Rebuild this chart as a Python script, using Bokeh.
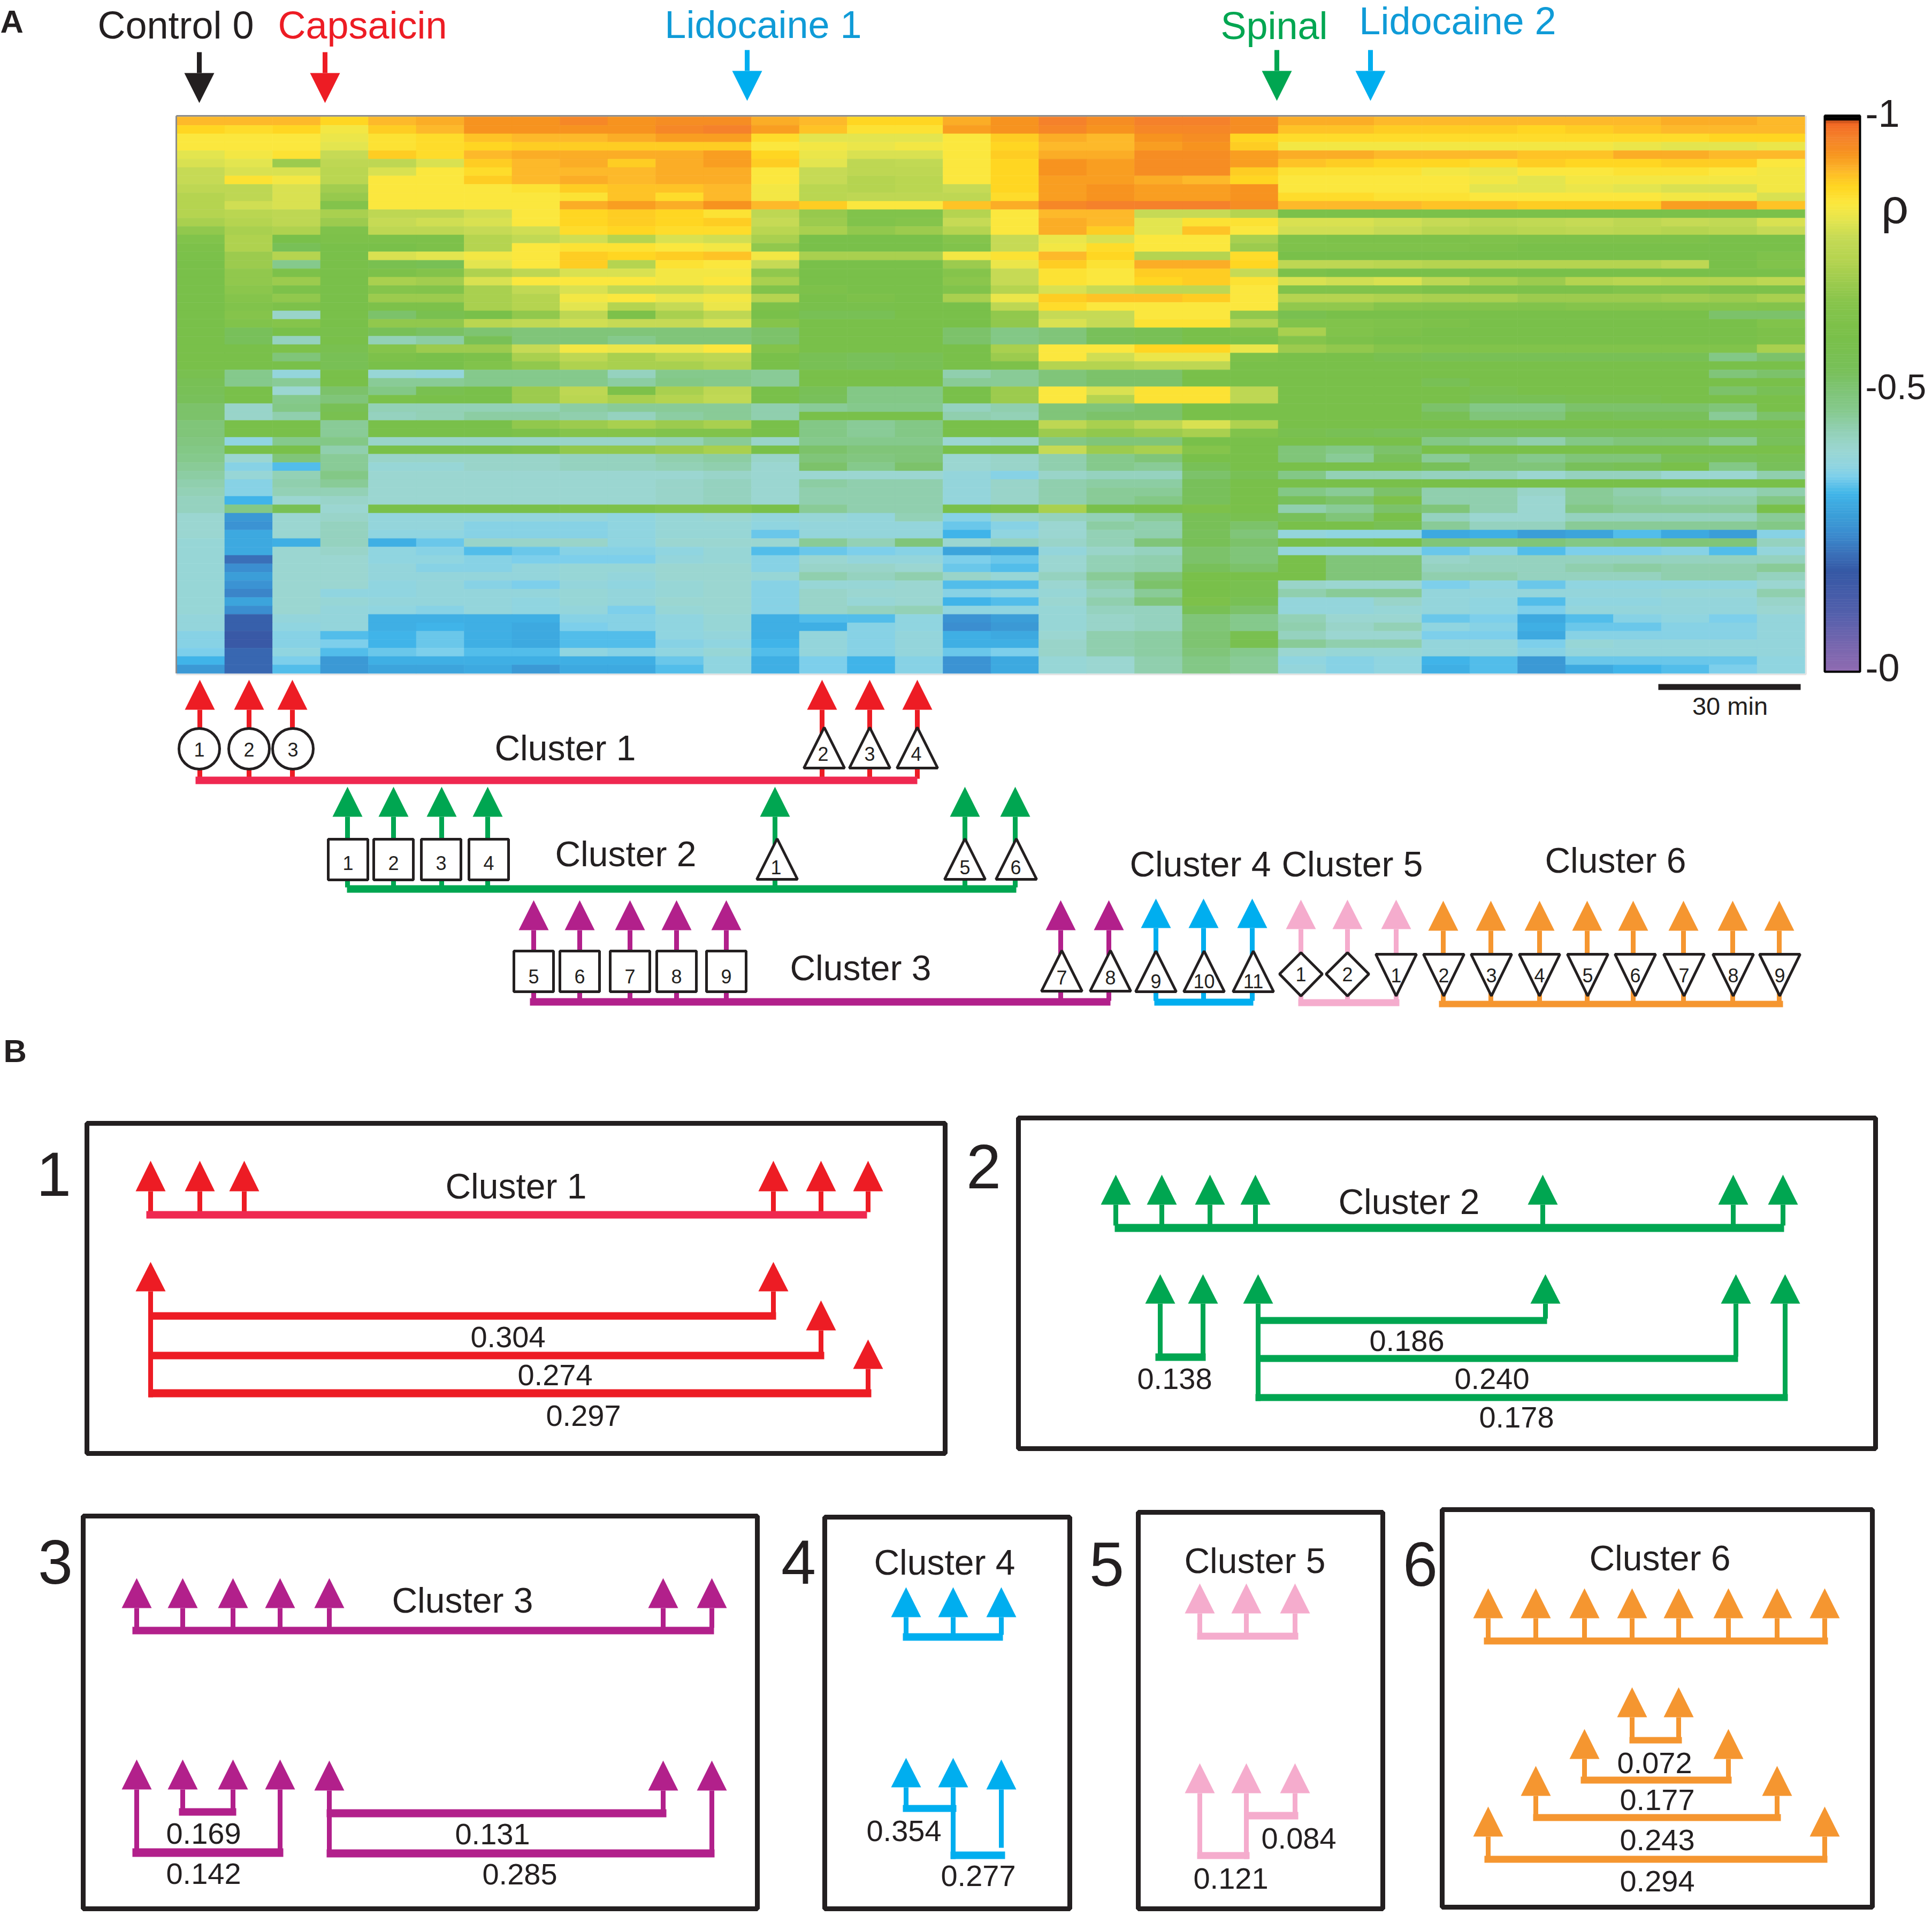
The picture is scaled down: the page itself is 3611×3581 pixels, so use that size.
from bokeh.plotting import figure
from bokeh.embed import file_html
from bokeh.resources import INLINE
from bokeh.models import ColumnDataSource, LinearColorMapper, Range1d
from bokeh.core.properties import value
import numpy as np

# ---------------------------------------------------------------- data
treatments = ["Control 0", "Capsaicin", "Lidocaine 1", "Spinal", "Lidocaine 2"]
cluster_names = ["Cluster 1", "Cluster 2", "Cluster 3", "Cluster 4", "Cluster 5", "Cluster 6"]
colorbar_labels = ["-1", "-0.5", "-0"]
corr_1 = ["0.304", "0.274", "0.297"]
corr_2 = ["0.186", "0.240", "0.178", "0.138"]
corr_3 = ["0.169", "0.142", "0.131", "0.285"]
corr_4 = ["0.354", "0.277"]
corr_5 = ["0.084", "0.121"]
corr_6 = ["0.072", "0.177", "0.243", "0.294"]

# |rho| x 100 (time bins 1-23, rows top to bottom)
t01 = [90,87,84,84,81,80,78,78,76,74,74,74,72,68,64,62,61,60,60,60,60,60,60,60,60,60,60,60,60,60,58,56,55,54,52,52,50,50,49,48,47,46,45,44,43,42,42,40,40,40,39,39,39,39,39,39,39,39,39,38,38,36,36,35,32,27]
t02 = [90,86,84,84,83,81,80,85,76,76,79,75,74,72,73,73,70,70,68,68,67,66,64,66,64,54,54,60,60,60,47,47,60,60,41,41,60,60,37,60,40,36,39,36,36,32,48,27,26,30,30,30,21,25,28,26,24,29,25,19,19,17,17,20,20,20]
t03 = [90,87,84,84,85,70,80,83,80,80,80,76,76,73,60,55,74,47,62,70,62,68,62,41,66,60,42,62,50,60,38,46,40,47,48,44,60,60,47,60,50,33,43,44,43,40,56,40,40,40,31,40,40,40,40,40,40,40,40,38,37,36,36,37,35,33]
t04 = [87,83,82,81,78,76,75,75,71,69,65,72,70,63,62,60,60,60,60,60,60,60,60,60,60,59,60,58,56,56,60,60,52,50,56,58,46,46,48,44,46,46,48,46,43,41,40,41,42,42,42,41,40,40,40,40,37,39,38,38,38,33,35,33,27,27]
t05 = [90,88,85,85,88,76,80,84,84,84,84,76,78,76,62,60,80,58,62,72,66,70,62,52,68,55,43,66,62,60,39,46,48,61,43,42,60,60,41,60,41,39,40,40,40,40,60,38,38,37,31,37,37,38,38,37,37,38,37,31,31,32,32,34,31,29]
t06 = [91,90,86,86,86,80,84,84,84,84,84,76,79,76,62,62,81,56,65,71,65,70,62,58,68,53,45,70,60,60,38,46,58,60,43,43,60,60,41,60,41,39,40,40,40,40,60,38,38,37,34,36,37,36,38,38,38,38,36,31,32,34,34,35,31,29]
t07 = [93,93,89,87,90,88,86,88,84,84,84,79,80,78,74,74,83,81,73,80,72,72,72,60,75,51,55,70,62,64,47,47,60,60,43,45,60,60,41,60,41,41,40,40,40,40,60,38,36,36,41,33,36,36,38,36,38,38,38,31,31,31,31,33,31,30]
t08 = [93,93,90,88,91,90,90,90,85,84,84,84,84,79,77,84,84,84,76,84,77,74,74,68,77,50,50,78,72,68,47,47,70,70,43,45,68,62,41,62,41,41,40,40,40,40,60,38,36,36,41,34,35,38,38,35,38,37,37,31,30,30,30,33,31,27]
t09 = [95,93,90,88,91,91,90,91,88,85,91,87,87,86,79,85,88,88,80,84,80,83,81,76,79,50,50,83,76,73,47,47,76,75,45,44,70,66,41,68,42,42,40,40,40,40,62,38,36,36,41,36,35,39,39,38,39,39,38,36,35,33,33,37,31,30]
t10 = [93,93,91,88,91,88,90,90,89,89,92,88,88,87,74,85,87,74,80,84,77,84,74,62,78,50,47,82,72,72,42,45,62,72,46,42,72,66,41,68,42,42,40,40,40,40,62,37,37,37,37,36,35,39,38,37,38,38,35,36,36,33,33,36,31,30]
t11 = [94,95,92,88,91,91,91,91,89,86,91,87,87,86,80,84,88,85,83,83,77,82,78,72,78,50,50,82,75,72,47,48,72,74,46,45,70,64,43,70,44,43,40,41,41,41,64,39,39,39,40,37,38,40,40,39,39,40,39,37,37,37,36,37,34,33]
t12 = [94,96,92,88,92,92,91,91,90,90,93,85,88,86,79,83,89,84,83,84,79,83,82,76,80,50,50,84,76,74,47,47,76,77,46,46,72,64,46,72,45,44,41,42,42,42,64,40,39,39,40,39,39,40,40,40,40,40,40,39,39,38,37,39,37,37]
t13 = [91,92,86,84,87,88,84,84,83,83,90,76,78,75,72,68,83,78,68,72,64,74,62,60,66,52,52,65,60,60,46,46,60,60,44,44,60,60,41,60,41,40,40,40,40,40,60,38,37,34,40,33,36,36,39,36,36,36,36,31,31,31,32,33,31,31]
t14 = [90,89,81,83,82,81,78,78,75,75,88,69,70,72,60,60,72,60,60,60,62,60,59,56,60,60,60,60,56,56,60,60,55,54,46,60,48,48,47,52,50,52,40,45,44,44,46,39,38,38,46,34,40,41,44,39,41,41,41,33,31,38,38,38,35,35]
t15 = [87,85,81,82,80,76,76,74,74,76,84,64,64,68,60,60,72,60,60,60,60,62,59,56,60,60,60,60,54,54,60,60,48,48,47,60,46,46,47,50,49,47,40,44,44,44,44,38,38,38,43,35,38,41,42,39,40,39,42,33,36,36,36,36,32,32]
t16 = [87,85,81,83,80,77,76,75,75,76,84,64,66,70,60,60,72,60,60,60,60,60,60,60,60,60,60,60,56,56,60,60,48,48,47,60,48,48,47,50,50,52,40,44,44,44,44,43,38,38,50,36,38,40,44,40,40,40,43,37,37,38,38,38,36,36]
t17 = [91,92,84,84,84,84,84,84,78,76,89,74,78,74,66,64,83,70,66,67,64,72,60,60,60,52,52,60,60,60,44,46,60,60,42,44,60,60,40,60,40,40,38,38,38,38,60,36,34,32,40,29,35,34,41,33,36,32,37,26,25,31,31,34,26,26]
t18 = [93,93,88,87,88,87,87,87,87,86,91,84,84,84,78,78,85,82,78,78,74,82,76,68,68,48,48,72,70,62,46,46,70,70,44,43,60,60,41,60,41,41,36,41,41,41,62,41,36,37,42,30,34,33,39,33,37,33,37,28,27,30,31,35,30,30]
t19 = [96,95,91,90,91,93,93,92,92,92,95,90,91,91,82,83,90,88,85,85,80,88,86,78,80,50,50,84,84,74,50,50,84,84,50,50,76,70,48,78,44,44,41,44,44,44,72,42,40,40,41,38,40,40,42,40,39,40,39,39,39,40,41,41,39,39]
t20 = [94,93,90,90,91,92,92,92,93,93,96,90,90,88,80,86,87,85,84,84,78,89,84,78,78,54,54,84,79,74,52,52,80,74,50,52,72,68,50,70,47,47,42,45,46,46,60,43,45,43,43,41,43,43,46,44,42,44,42,41,41,44,44,44,40,40]
t21 = [96,95,93,92,94,94,94,91,92,92,96,78,81,81,84,84,74,91,88,87,76,89,84,84,85,56,56,87,82,76,52,52,85,85,52,52,76,70,50,72,50,46,42,45,46,48,60,46,44,44,50,42,44,44,50,52,46,50,42,42,42,45,45,45,44,44]
t22 = [96,95,94,93,94,94,94,90,92,92,96,78,85,89,84,84,74,91,88,88,76,88,84,84,85,60,60,87,82,76,60,60,85,85,60,60,80,72,60,66,60,55,52,54,54,54,62,55,55,54,55,52,52,54,60,60,60,62,56,50,50,51,51,50,48,48]
t23 = [94,94,87,88,92,92,88,87,93,93,94,74,85,84,72,70,86,87,78,85,84,84,84,68,74,62,60,82,62,60,60,60,76,76,60,60,73,64,60,60,60,60,56,60,60,60,60,58,52,50,52,50,50,52,60,58,58,56,52,47,47,58,58,47,46,46]

# |rho| x 100, time bins 24-34, one list per row (top to bottom)
late_rows = [
 [91,91,90,90,90,90,90,90,91,91,90],[89,89,88,88,88,87,88,89,90,90,90],[86,86,86,86,86,86,86,86,86,87,87],
 [83,83,83,83,83,83,83,82,81,81,82],[91,91,90,90,90,89,89,91,91,90,90],[89,88,87,87,86,88,87,87,88,88,84],
 [85,85,85,83,82,84,84,85,85,84,83],[84,84,84,84,83,81,83,83,83,83,83],[84,84,84,84,81,81,82,81,80,80,83],
 [86,86,85,85,84,84,84,84,83,83,80],[90,90,90,89,89,88,88,88,92,92,89],[61,61,61,61,61,61,61,61,61,61,61],
 [80,80,79,78,76,77,78,76,78,77,80],[79,79,78,75,74,75,76,75,74,75,78],[63,62,62,62,63,62,62,62,62,60,60],
 [63,63,63,63,62,60,60,60,60,60,60],[60,60,60,60,60,60,60,60,60,60,63],[76,76,75,74,74,74,74,74,76,60,64],
 [62,60,60,60,60,60,60,60,60,60,60],[80,79,80,76,72,70,74,75,74,74,76],[64,64,64,62,62,62,62,64,64,62,62],
 [74,74,73,72,72,70,70,70,71,70,72],[68,68,66,65,65,64,66,66,66,66,65],[58,60,60,60,60,60,60,60,60,52,52],
 [64,64,63,62,60,60,60,60,60,60,64],[72,64,62,60,60,60,60,60,60,60,62],[66,62,60,60,60,60,60,60,60,60,62],
 [70,68,66,64,64,64,64,64,64,64,72],[60,60,58,56,56,56,56,56,56,48,52],[60,60,60,60,60,60,60,60,60,60,60],
 [60,60,60,60,60,60,60,60,60,50,52],[60,60,60,56,60,60,60,60,60,60,60],[60,60,60,60,58,60,60,60,60,52,56],
 [60,60,60,60,56,56,58,58,60,60,60],[60,60,60,52,48,48,52,52,52,50,60],[60,60,60,56,50,50,56,54,54,46,52],
 [60,60,60,60,60,60,60,60,60,60,60],[58,56,54,54,54,54,54,54,54,54,56],[60,60,60,48,46,44,48,50,50,46,54],
 [50,48,52,60,60,60,60,60,60,60,60],[50,46,54,46,50,47,50,50,54,54,56],[60,60,60,54,50,50,54,56,60,48,54],
 [48,43,43,42,42,40,42,42,40,40,44],[60,60,60,60,60,60,60,60,60,60,60],[48,46,52,44,44,41,46,44,42,42,44],
 [54,52,62,44,44,40,46,45,44,44,48],[44,46,52,50,44,40,48,46,46,46,60],[54,50,60,42,40,40,42,42,42,42,46],
 [60,60,56,46,42,42,46,46,46,46,48],[38,37,37,30,31,28,29,33,30,28,36],[60,58,60,50,50,50,48,49,50,50,42],
 [38,38,38,34,36,33,35,35,36,33,38],[60,50,50,41,42,42,42,42,42,42,42],[60,50,50,42,42,42,44,45,44,44,46],
 [60,50,50,44,44,42,42,42,44,44,42],[41,40,40,35,37,34,37,37,37,37,40],[44,46,46,38,38,38,38,38,39,39,44],
 [38,38,41,38,37,33,37,37,38,38,41],[38,38,39,38,37,35,38,38,38,38,40],[43,40,40,34,35,30,33,36,37,35,38],
 [44,41,43,37,36,31,34,34,36,36,38],[42,40,40,35,35,30,36,36,36,36,38],[46,44,44,38,38,35,39,38,38,38,38],
 [40,39,39,38,38,36,38,38,38,38,38],[37,36,37,32,33,27,34,34,34,34,37],[38,36,37,31,33,27,30,32,33,35,37],
]
early_cols = [t01,t02,t03,t04,t05,t06,t07,t08,t09,t10,t11,t12,t13,t14,t15,t16,t17,t18,t19,t20,t21,t22,t23]

# ---------------------------------------------------------------- styles
INK = "#231F20"; RED = "#ED1C24"; RED2 = "#EF2850"; GREEN = "#00A651"; PURPLE = "#B2208B"
BLUE = "#00AEEF"; BLUETXT = "#0F9BD7"; PINK = "#F5ACCD"; ORANGE = "#F59630"
FONT = "Liberation Sans"

stops = [(0,"#8F6BB1"),(5,"#7566AE"),(10,"#5560AC"),(18,"#3558A5"),(21,"#3A6FB8"),(25,"#3B8ED0"),(28,"#3B9ED8"),
         (32,"#40B5E9"),(35,"#7DCFEB"),(37,"#90D5E0"),(40,"#9BD6D1"),(44,"#90CFAE"),(47,"#85C98C"),(50,"#80C57A"),
         (54,"#78C05A"),(60,"#79C04A"),(66,"#85C44B"),(70,"#9CCB4E"),(74,"#B5D450"),(78,"#C5DA55"),(81,"#E3E54F"),
         (84,"#FBE83F"),(87.3,"#FFD520"),(90,"#FDB92A"),(93,"#F7941E"),(96,"#F5822B"),(98.8,"#F26522"),(99,"#000000"),(100,"#000000")]
def hex2rgb(h): return [int(h[i:i+2],16) for i in (1,3,5)]
sx = [s[0] for s in stops]; sc = np.array([hex2rgb(s[1]) for s in stops],float)
lv = np.linspace(0,100,512)
palette = ["#%02X%02X%02X" % tuple(int(round(np.interp(v,sx,sc[:,k]))) for k in range(3)) for v in lv]
mapper = LinearColorMapper(palette=palette, low=0, high=100)

p = figure(width=3603, height=3573, x_range=Range1d(0,3603), y_range=Range1d(3573,0),
           output_backend="svg", toolbar_location=None, min_border=0)
p.axis.visible = False; p.grid.visible = False; p.outline_line_color = None
p.background_fill_color = "white"; p.border_fill_color = "white"

# ---------------------------------------------------------------- heat map
n_rows = 66; n_cols = 34
xe = np.linspace(330,3373,n_cols+1); ye = np.linspace(218,1258,n_rows+1)
L,R,T,B,V = [],[],[],[],[]
for r in range(n_rows):
    row = [c[r] for c in early_cols] + late_rows[r]
    for c in range(n_cols):
        L.append(xe[c]); R.append(xe[c+1]); T.append(ye[r]); B.append(ye[r+1]); V.append(row[c])
hsrc = ColumnDataSource(dict(l=L,r=R,t=T,b=B,rho=V))
p.quad(left="l",right="r",top="t",bottom="b",source=hsrc,
       fill_color={"field":"rho","transform":mapper},line_color={"field":"rho","transform":mapper},line_width=0.6)
p.segment([329,329],[216,216],[3373,329],[216,1258],line_color="#8C8C8C",line_width=3)
p.segment([329,3375],[1260,216],[3375,3375],[1260,1260],line_color="#E4E4E4",line_width=3)

# colour bar
cb = np.arange(0,100,0.5)
cy = lambda v: 1255 - np.asarray(v)*(1255-214)/100
cbs = ColumnDataSource(dict(t=cy(cb+0.5),b=cy(cb),rho=cb+0.25))
p.quad(left=3410,right=3476,top="t",bottom="b",source=cbs,fill_color={"field":"rho","transform":mapper},
       line_color={"field":"rho","transform":mapper},line_width=0.6)
p.quad(left=[3410],right=[3476],top=[216],bottom=[1255],fill_color=None,line_color="#000000",line_width=4)

# ---------------------------------------------------------------- helpers
def arrows(xs, tip, base, color, hw=28, stem_to=None, w=9):
    xs = list(xs)
    p.patches([[x-hw,x,x+hw] for x in xs],[[base,tip,base] for x in xs],fill_color=color,line_color=None)
    if stem_to is not None:
        st = stem_to if isinstance(stem_to,(list,tuple)) else [stem_to]*len(xs)
        p.segment(xs,[base]*len(xs),xs,st,line_color=color,line_width=w)
def hbar(x0,x1,y0,y1,color):
    p.quad(left=[x0],right=[x1],top=[y0],bottom=[y1],fill_color=color,line_color=None)
def label(x,y,t,size,color=INK,bold=False,align="center"):
    p.text([x],[y],text=[t],text_font=value(FONT),text_font_size=f"{size}px",text_color=color,
           text_align=align,text_baseline="middle",text_font_style="bold" if bold else "normal")
def tri(xs,tip,base,hw=38):
    xs=list(xs)
    p.patches([[x-hw,x,x+hw] for x in xs],[[base,tip,base] for x in xs],fill_color="white",line_color=INK,line_width=5)
def squares(xs,t,b,hw=37):
    xs=list(xs)
    p.quad(left=[x-hw for x in xs],right=[x+hw for x in xs],top=[t]*len(xs),bottom=[b]*len(xs),
           fill_color="white",line_color=INK,line_width=5)
def digits(xs,ys,labels):
    ys = ys if isinstance(ys,list) else [ys]*len(xs)
    for x,y,t in zip(xs,ys,labels): label(x,y,t,36)
def box(x0,x1,y0,y1):
    p.quad(left=[x0],right=[x1],top=[y0],bottom=[y1],fill_color=None,line_color=INK,line_width=9)

CL = 66
TR = 72
# ---------------------------------------------------------------- panel A: header
label(0,40,"A",60,"#231F20",True,"left")
label(328,46,treatments[0],TR,INK)
label(677,46,treatments[1],TR,RED)
label(1426,45,treatments[2],TR,BLUETXT)
label(2381,47,treatments[3],TR,GREEN)
label(2724,38,treatments[4],TR,BLUETXT)
for x,top,base,tip,c in [(372,97,136,192,INK),(607,97,136,192,RED),(1396,93,132,188,BLUE),(2386,93,132,188,GREEN),(2561,93,132,188,BLUE)]:
    p.segment([x],[top],[x],[base],line_color=c,line_width=9)
    p.patches([[x-28,x,x+28]],[[base,tip,base]],fill_color=c,line_color=None)
label(3486,211,colorbar_labels[0],72,INK,False,"left")
label(3486,722,colorbar_labels[1],66,INK,False,"left")
label(3486,1247,colorbar_labels[2],72,INK,False,"left")
label(3541,385,"ρ",90,INK)
hbar(3099,3365,1278,1289,INK)
label(3233,1319,"30 min",47)

# cluster 1
c1x = [373,465,546,1536,1625,1714]
arrows(c1x,1270,1326,RED,stem_to=1455)
hbar(365,1714,1451,1465,RED2)
p.ellipse([372,465,547],[1399]*3,width=76,height=76,fill_color="white",line_color=INK,line_width=5)
digits([372,465,547],1400,["1","2","3"])
tri([1540,1625,1714],1359,1435)
digits([1538,1625,1712],1408,["2","3","4"])
label(1056,1397,cluster_names[0],CL)
# cluster 2
c2x = [649,735,825,911,1448,1803,1897]
arrows(c2x,1470,1526,GREEN,stem_to=1658)
hbar(648,1899,1654,1668,GREEN)
squares([650,735,824,913],1568,1644)
digits([650,735,824,913],1612,["1","2","3","4"])
tri([1452,1803,1899],1567,1643)
digits([1450,1803,1898],1620,["1","5","6"])
label(1169,1595,cluster_names[1],CL)
# cluster 3
c3x = [997,1083,1177,1264,1357,1982,2072]
arrows(c3x,1682,1738,PURPLE,stem_to=1870)
hbar(990,2075,1865,1879,PURPLE)
squares([997,1083,1177,1264,1357],1777,1853)
digits([997,1083,1177,1264,1357],1824,["5","6","7","8","9"])
tri([1984,2075],1776,1852)
digits([1984,2075],1826,["7","8"])
label(1608,1808,cluster_names[2],CL)
# cluster 4
c4x = [2160,2249,2340]
arrows(c4x,1679,1734,BLUE,stem_to=1870)
hbar(2157,2342,1866,1879,BLUE)
tri([2160,2250,2342],1777,1853)
digits([2160,2250,2342],1833,["9","10","11"])
label(2243,1614,cluster_names[3],CL)
# cluster 5
c5x = [2431,2518,2609]
arrows(c5x,1681,1736,PINK,stem_to=1870)
hbar(2426,2615,1867,1880,PINK)
p.patches([[x-40,x,x+40,x] for x in [2431,2518]],[[1820,1780,1820,1861]]*2,fill_color="white",line_color=INK,line_width=5)
digits([2431,2518],1820,["1","2"])
tri([2609],1861,1783)
digits([2609],1822,["1"])
label(2527,1614,cluster_names[4],CL)
# cluster 6
c6x = [2697,2786,2877,2966,3052,3146,3238,3325]
arrows(c6x,1683,1739,ORANGE,stem_to=1874)
hbar(2689,3332,1870,1882,ORANGE)
c6s = [2698,2787,2877,2967,3056,3147,3239,3326]
tri(c6s,1861,1783)
digits(c6s,1822,["2","3","4","5","6","7","8","9"])
label(3019,1607,cluster_names[5],CL)

# ---------------------------------------------------------------- panel B
label(6,1964,"B",60,INK,True,"left")
NUM = 117
# box 1
box(162,1766,2099,2716)
label(100,2194,"1",NUM)
x1 = [281,373,456,1445,1534,1622]
arrows(x1,2169,2226,RED,stem_to=2265)
hbar(273,1620,2263,2277,RED2)
label(964,2216,cluster_names[0],CL)
arrows([1445],2358,2413,RED,stem_to=2454)
arrows([281],2358,2413,RED,stem_to=2611)
arrows([1534],2430,2486,RED,stem_to=2528)
arrows([1622],2503,2558,RED,stem_to=2598)
hbar(277,1450,2452,2466,RED); hbar(277,1540,2526,2540,RED); hbar(277,1628,2596,2611,RED)
label(949,2498,corr_1[0],56); label(1037,2569,corr_1[1],56); label(1090,2645,corr_1[2],56)
# box 2
box(1903,3505,2089,2707)
label(1838,2180,"2",NUM)
x2 = [2085,2171,2261,2346,2883,3239,3332]
arrows(x2,2195,2251,GREEN,stem_to=2290)
hbar(2083,3334,2287,2302,GREEN)
label(2633,2245,cluster_names[1],CL)
arrows([2168,2248],2381,2436,GREEN,stem_to=2532)
hbar(2159,2253,2529,2543,GREEN)
arrows([2351],2381,2436,GREEN,stem_to=2618)
arrows([2888],2381,2436,GREEN,stem_to=2464)
arrows([3244],2381,2436,GREEN,stem_to=2535)
arrows([3336],2381,2436,GREEN,stem_to=2608)
hbar(2351,2891,2461,2474,GREEN); hbar(2351,3248,2532,2545,GREEN); hbar(2346,3341,2605,2618,GREEN)
label(2629,2505,corr_2[0],56); label(2788,2576,corr_2[1],56); label(2834,2648,corr_2[2],56); label(2195,2576,corr_2[3],56)
# box 3
box(155,1415,2833,3567)
label(103,2919,"3",NUM)
x3 = [255,341,435,523,615,1239,1330]
arrows(x3,2949,3005,PURPLE,stem_to=3042)
hbar(247,1334,3040,3054,PURPLE)
label(864,2990,cluster_names[2],CL)
arrows([341,435],3288,3344,PURPLE,stem_to=3382)
hbar(334,441,3379,3393,PURPLE)
arrows([255,523],3288,3344,PURPLE,stem_to=3457)
hbar(247,529,3454,3470,PURPLE)
arrows([615],3290,3346,PURPLE,stem_to=3460)
arrows([1239],3290,3346,PURPLE,stem_to=3384)
arrows([1330],3290,3346,PURPLE,stem_to=3460)
hbar(610,1245,3381,3396,PURPLE); hbar(610,1335,3456,3471,PURPLE)
label(380,3426,corr_3[0],56); label(380,3501,corr_3[1],56); label(920,3427,corr_3[2],56); label(971,3502,corr_3[3],56)
# box 4
box(1541,1999,2835,3567)
label(1492,2919,"4",NUM)
x4 = [1693,1781,1871]
arrows(x4,2966,3022,BLUE,stem_to=3055)
hbar(1687,1874,3052,3066,BLUE)
label(1765,2919,cluster_names[3],CL)
arrows([1693],3285,3340,BLUE,stem_to=3376)
arrows([1781],3285,3340,BLUE,stem_to=3474)
arrows([1871],3288,3344,BLUE,stem_to=3453)
hbar(1687,1787,3373,3386,BLUE); hbar(1776,1878,3460,3474,BLUE)
label(1689,3421,corr_4[0],56); label(1828,3505,corr_4[1],56)
# box 5
box(2127,2584,2826,3567)
label(2068,2923,"5",NUM)
x5 = [2242,2329,2420]
arrows(x5,2959,3015,PINK,stem_to=3054)
hbar(2237,2426,3051,3064,PINK)
label(2345,2916,cluster_names[4],CL)
arrows([2242],3295,3351,PINK,stem_to=3464)
arrows([2329],3295,3351,PINK,stem_to=3474)
arrows([2420],3295,3351,PINK,stem_to=3389)
hbar(2325,2426,3386,3400,PINK); hbar(2237,2335,3461,3474,PINK)
label(2427,3435,corr_5[0],56); label(2300,3510,corr_5[1],56)
# box 6
box(2695,3499,2821,3564)
label(2654,2923,"6",NUM)
x6 = [2781,2870,2961,3050,3137,3230,3321,3410]
arrows(x6,2968,3024,ORANGE,stem_to=3063)
hbar(2773,3416,3060,3073,ORANGE)
label(3102,2911,cluster_names[5],CL)
arrows([3050,3137],3153,3209,ORANGE,stem_to=3248)
hbar(3045,3143,3246,3258,ORANGE)
arrows([2961,3230],3231,3287,ORANGE,stem_to=3323)
hbar(2954,3236,3320,3333,ORANGE)
arrows([2870,3321],3300,3356,ORANGE,stem_to=3393)
hbar(2865,3328,3390,3403,ORANGE)
arrows([2781,3410],3376,3432,ORANGE,stem_to=3471)
hbar(2774,3415,3468,3481,ORANGE)
label(3092,3294,corr_6[0],56); label(3097,3363,corr_6[1],56); label(3097,3438,corr_6[2],56); label(3097,3515,corr_6[3],56)

open("out.html","w").write(file_html(p, INLINE))
